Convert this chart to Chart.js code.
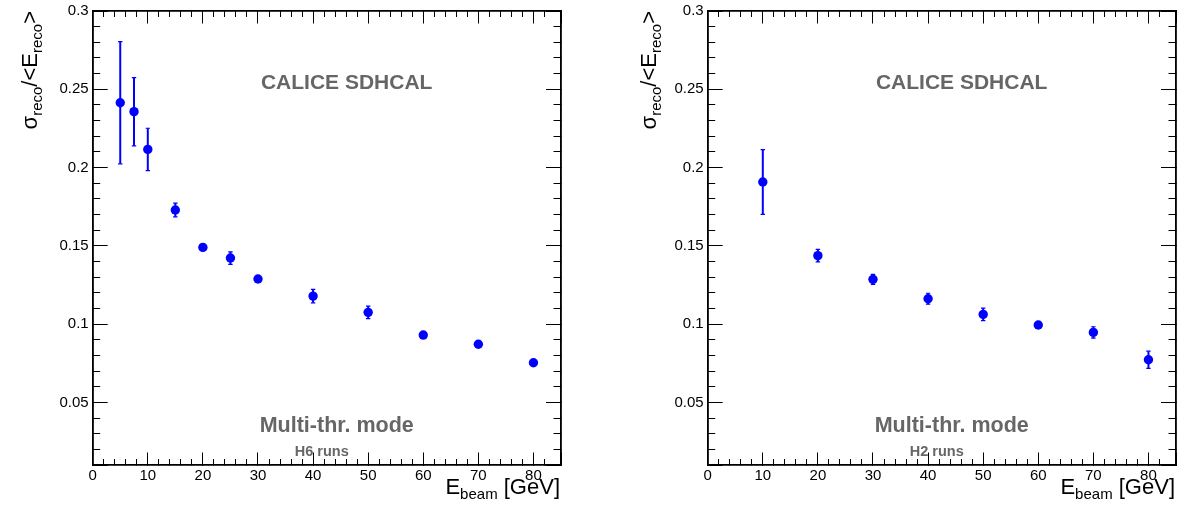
<!DOCTYPE html>
<html>
<head>
<meta charset="utf-8">
<script src="https://cdn.jsdelivr.net/npm/chart.js@4.4.1/dist/chart.umd.min.js"></script>
<style>
  html, body { margin: 0; padding: 0; background: #ffffff; }
  #wrap { position: relative; width: 1193px; height: 528px; overflow: hidden; }
  .panel { position: absolute; top: 0; height: 528px; }
</style>
</head>
<body>
<div id="wrap">
  <div class="panel" style="left:0px;width:596px"><canvas id="c1" width="596" height="528"></canvas></div>
  <div class="panel" style="left:596px;width:597px"><canvas id="c2" width="597" height="528"></canvas></div>
</div>
<script>
// ---------------- data ----------------
const energiesH6   = [5, 7.5, 10, 15, 20, 25, 30, 40, 50, 60, 70, 80];
const resolutionH6 = [0.2414, 0.2357, 0.2116, 0.1729, 0.1490, 0.1422, 0.1288, 0.1179, 0.1075, 0.0930, 0.0871, 0.0753];
const errorH6      = [0.0390, 0.0218, 0.0135, 0.0044, 0.0015, 0.0040, 0.0015, 0.0043, 0.0040, 0.0015, 0.0015, 0.0015];

const energiesH2   = [10, 20, 30, 40, 50, 60, 70, 80];
const resolutionH2 = [0.1908, 0.1437, 0.1286, 0.1162, 0.1062, 0.0994, 0.0947, 0.0772];
const errorH2      = [0.0207, 0.0040, 0.0032, 0.0035, 0.0040, 0.0015, 0.0036, 0.0055];

const xTickLabels = [0, 10, 20, 30, 40, 50, 60, 70, 80];
const yTickLabels = [0.05, 0.1, 0.15, 0.2, 0.25, 0.3];
const xRange = [0, 85];
const yRange = [0.01, 0.3];
const xMajorStep = 10, xMinorStep = 2;
const yMajorStep = 0.05, yMinorStep = 0.01;

const experimentLabel = 'CALICE SDHCAL';
const modeLabel = 'Multi-thr. mode';
// ----------------------------------------------------------------

const FONT = '"Liberation Sans", Arial, Helvetica, sans-serif';
const BLUE = '#0000ff';
const GREY = '#666666';

function isLabel(list, v) { return list.some(l => Math.abs(l - v) < 1e-9); }
function fmt(v) { return String(parseFloat(v.toFixed(3))); }

function axis(pos, range, step, len, weight, labels, size, pad) {
  return {
    type: 'linear', position: pos, min: range[0], max: range[1], weight: weight,
    grid: { drawOnChartArea: false, drawTicks: true, tickLength: -len, tickColor: '#000', tickWidth: 1 },
    border: { display: true, color: '#000', width: 1.6 },
    ticks: {
      stepSize: step, includeBounds: true, autoSkip: false, maxRotation: 0, minRotation: 0,
      display: !!labels, padding: pad || 0, color: '#000',
      font: { family: FONT, size: 15 },
      callback: function (v) { return labels && isLabel(labels, v) ? fmt(v) : ''; }
    },
    afterFit: function (s) {
      if (s.isHorizontal()) s.height = size; else s.width = size;
      s.paddingTop = 0; s.paddingBottom = 0; s.paddingLeft = 0; s.paddingRight = 0;
    }
  };
}

function drawRich(ctx, parts, align, main, sub, drop) {
  let total = 0;
  const widths = parts.map(p => {
    ctx.font = (p[1] ? sub : main) + 'px ' + FONT;
    const w = ctx.measureText(p[0]).width; total += w; return w;
  });
  let x = align === 'right' ? -total : (align === 'center' ? -total / 2 : 0);
  parts.forEach((p, i) => {
    ctx.font = (p[1] ? sub : main) + 'px ' + FONT;
    ctx.fillText(p[0], x, p[1] ? drop : 0);
    x += widths[i];
  });
}

function makeChart(id, energies, values, errors, runsLabel, geo) {
  const points = energies.map((e, i) => ({ x: e, y: values[i] }));
  const bars = [];
  energies.forEach((e, i) => {
    bars.push({ x: e, y: values[i] - errors[i] });
    bars.push({ x: e, y: values[i] + errors[i] });
    bars.push({ x: e, y: null });
  });

  const annot = {
    id: 'annot_' + id,
    afterDraw(chart) {
      const ctx = chart.ctx, a = chart.chartArea;
      ctx.save();
      ctx.fillStyle = GREY;
      ctx.textBaseline = 'alphabetic';
      ctx.textAlign = 'center';
      ctx.font = 'bold 21px ' + FONT;
      ctx.fillText(experimentLabel, a.left + 254, 89);
      ctx.font = 'bold 21.5px ' + FONT;
      ctx.fillText(modeLabel, a.left + 244, 432);
      ctx.font = 'bold 14.5px ' + FONT;
      ctx.fillText(runsLabel, a.left + 229, 456);
      ctx.restore();

      // x title
      ctx.save();
      ctx.fillStyle = '#000';
      ctx.textAlign = 'left';
      ctx.textBaseline = 'alphabetic';
      ctx.translate(a.right - 1, 494);
      drawRich(ctx, [['E', false], ['beam', true], [' [GeV]', false]], 'right', 22, 15, 5);
      ctx.restore();

      // y title
      ctx.save();
      ctx.fillStyle = '#000';
      ctx.textAlign = 'left';
      ctx.textBaseline = 'alphabetic';
      ctx.translate(geo.yTitleX, a.top);
      ctx.rotate(-Math.PI / 2);
      drawRich(ctx, [['σ', false], ['reco', true], ['/<E', false], ['reco', true], ['>', false]], 'right', 22, 15, 5);
      ctx.restore();
    }
  };

  return new Chart(document.getElementById(id), {
    type: 'scatter',
    data: {
      datasets: [
        { data: points, pointRadius: 4.7, pointHoverRadius: 4.7, backgroundColor: BLUE, borderWidth: 0, pointBorderWidth: 0, showLine: false, xAxisID: 'x', yAxisID: 'y' },
        { data: bars, showLine: true, spanGaps: false, borderColor: BLUE, borderWidth: 2, pointStyle: 'line',
          pointRadius: 2.2, pointHoverRadius: 2.2, pointBorderColor: BLUE, pointBorderWidth: 1.2, backgroundColor: BLUE, xAxisID: 'x', yAxisID: 'y' }
      ]
    },
    options: {
      responsive: false, animation: false,
      layout: { padding: { left: 0, right: geo.panelW - geo.right, top: geo.top, bottom: 0 } },
      plugins: { legend: { display: false }, tooltip: { enabled: false }, title: { display: false } },
      events: [],
      scales: {
        x:   axis('bottom', xRange, xMajorStep, 12.5, 1, xTickLabels, 528 - geo.bottom, 14),
        xm:  axis('bottom', xRange, xMinorStep, 6,    0, null, 0),
        xt:  axis('top',    xRange, xMajorStep, 12.5, 1, null, 0),
        xtm: axis('top',    xRange, xMinorStep, 6,    0, null, 0),
        y:   axis('left',   yRange, yMajorStep, 15,   1, yTickLabels, geo.left, 19),
        ym:  axis('left',   yRange, yMinorStep, 7.5,  0, null, 0),
        yr:  axis('right',  yRange, yMajorStep, 15,   1, null, 0),
        yrm: axis('right',  yRange, yMinorStep, 7.5,  0, null, 0)
      }
    },
    plugins: [annot]
  });
}

makeChart('c1', energiesH6, resolutionH6, errorH6, 'H6 runs',
  { panelW: 596, left: 92.7, right: 561, top: 11, bottom: 465, yTitleX: 37 });
makeChart('c2', energiesH2, resolutionH2, errorH2, 'H2 runs',
  { panelW: 597, left: 111.7, right: 580, top: 11, bottom: 465, yTitleX: 60 });
</script>
</body>
</html>
